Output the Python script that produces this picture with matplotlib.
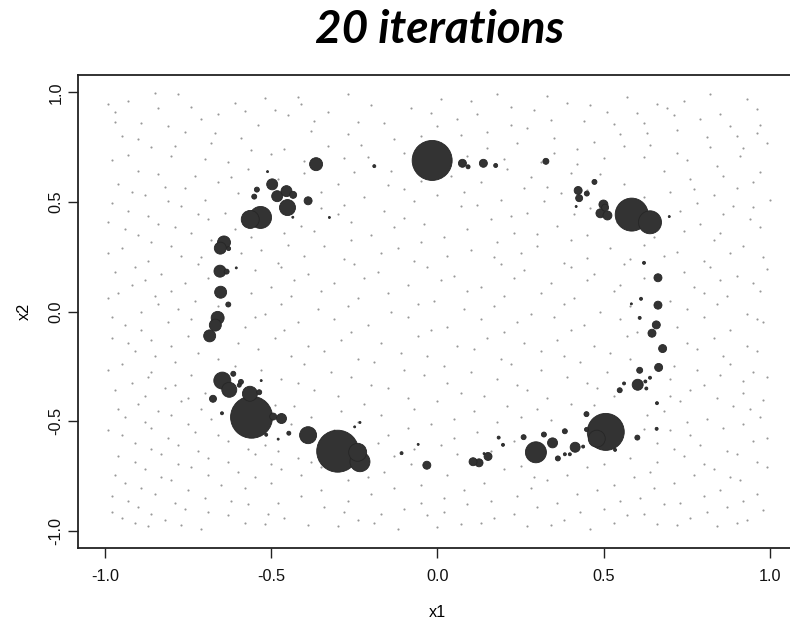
import matplotlib
matplotlib.use("Agg")
import matplotlib.pyplot as plt
import numpy as np

# ---- main particles: x1, x2, weight (diameter-ish) ----
part_x = [-0.365, -0.190, -0.016, -0.511, -0.497, -0.543, -0.551, -0.454, -0.482, -0.434,
          -0.389, -0.451, -0.435, -0.532, -0.563, -0.325, -0.642, -0.653, -0.628, -0.654,
          -0.634, -0.605, -0.652, -0.629, -0.661, -0.668, -0.685, -0.647, -0.626, -0.614,
          -0.591, -0.596, -0.675, -0.564, -0.536, -0.530, -0.559, -0.494, -0.469, -0.648,
          -0.515, -0.447, -0.389, -0.300, -0.240, -0.233, -0.249, -0.233, -0.108, -0.058,
          -0.032, -0.479, 0.075, 0.092, 0.138, 0.175, 0.326, 0.472, 0.423, 0.449,
          0.426, 0.417, 0.499, 0.490, 0.511, 0.504, 0.584, 0.639, 0.697, 0.621,
          0.663, 0.612, 0.583, 0.663, 0.608, 0.658, 0.645, 0.677, 0.665, 0.608,
          0.639, 0.625, 0.602, 0.628, 0.561, 0.548, 0.660, 0.659, 0.601, 0.448,
          0.448, 0.506, 0.479, 0.534, 0.383, 0.320, 0.346, 0.414, 0.438, 0.259,
          0.296, 0.362, 0.383, 0.398, 0.184, 0.197, 0.152, 0.125, 0.107, 0.140]
part_y = [0.672, 0.663, 0.689, 0.638, 0.580, 0.556, 0.524, 0.549, 0.526, 0.532,
          0.505, 0.474, 0.430, 0.429, 0.420, 0.429, 0.315, 0.289, 0.287, 0.184,
          0.182, 0.199, 0.088, 0.032, -0.029, -0.062, -0.111, -0.315, -0.357, -0.284,
          -0.321, -0.336, -0.398, -0.375, -0.368, -0.315, -0.482, -0.479, -0.488, -0.464,
          -0.562, -0.555, -0.564, -0.637, -0.642, -0.685, -0.526, -0.506, -0.646, -0.606,
          -0.701, -0.582, 0.676, 0.660, 0.676, 0.666, 0.685, 0.591, 0.552, 0.538,
          0.517, 0.479, 0.488, 0.448, 0.438, 0.474, 0.442, 0.407, 0.433, 0.222,
          0.154, 0.058, 0.035, 0.029, -0.029, -0.061, -0.099, -0.169, -0.255, -0.268,
          -0.302, -0.319, -0.334, -0.351, -0.328, -0.359, -0.418, -0.535, -0.575, -0.468,
          -0.538, -0.549, -0.580, -0.631, -0.546, -0.561, -0.599, -0.619, -0.616, -0.573,
          -0.642, -0.670, -0.651, -0.651, -0.575, -0.608, -0.661, -0.690, -0.685, -0.648]
part_w = [13, 3, 40, 2, 11, 5, 5, 11, 11, 7,
          8, 16, 2, 22, 18, 2, 13, 12, 4, 12,
          5, 2, 12, 5, 13, 12, 12, 17, 15, 5,
          5, 4, 7, 15, 5, 2, 42, 7, 10, 3,
          3, 4, 17, 42, 18, 20, 2, 2, 3, 2,
          8, 2, 8, 4, 8, 4, 6, 5, 8, 5,
          7, 2, 9, 9, 9, 7, 33, 23, 2, 3,
          8, 3, 2, 8, 3, 8, 8, 8, 8, 6,
          3, 3, 11, 3, 3, 5, 3, 3, 5, 5,
          4, 37, 17, 3, 5, 5, 10, 10, 3, 5,
          21, 5, 3, 3, 3, 3, 8, 8, 8, 2]

# ---- background particles with negligible weight ----
bg_points = [
    (-0.93,0.96),(-0.78,0.99),(-0.61,0.95),(-0.42,0.98),(-0.20,0.94),(0.01,0.97),(0.18,0.99),(0.39,0.95),(0.57,0.98),(0.74,0.96),(0.93,0.97),
    (-0.97,0.91),(-0.84,0.93),(-0.66,0.90),(-0.49,0.92),(-0.33,0.91),(-0.08,0.93),(0.12,0.90),(0.29,0.92),(0.51,0.91),(0.69,0.93),(0.85,0.90),
    (-0.89,0.86),(-0.71,0.88),(-0.54,0.85),(-0.37,0.87),(-0.16,0.86),(0.06,0.88),(0.22,0.85),(0.44,0.87),(0.62,0.86),(0.79,0.88),(0.97,0.85),
    (-0.95,0.80),(-0.76,0.82),(-0.59,0.79),(-0.27,0.81),(-0.05,0.80),(0.15,0.82),(0.35,0.79),(0.55,0.81),(0.72,0.83),(0.90,0.80),
    (-0.86,0.75),(-0.68,0.77),(-0.46,0.74),(-0.23,0.76),(-0.02,0.75),(0.24,0.77),(0.42,0.74),(0.64,0.76),(0.82,0.75),(0.99,0.77),
    (-0.98,0.69),(-0.80,0.71),(-0.63,0.68),(-0.50,0.72),(-0.28,0.70),(0.09,0.71),(0.31,0.68),(0.50,0.70),(0.75,0.69),(0.91,0.71),
    (-0.90,0.64),(-0.73,0.62),(-0.57,0.65),(-0.40,0.63),(-0.14,0.64),(0.04,0.62),(0.21,0.65),(0.40,0.63),(0.68,0.64),(0.86,0.62),
    (-0.96,0.58),(-0.82,0.57),(-0.66,0.59),(-0.30,0.58),(-0.10,0.56),(0.13,0.59),(0.33,0.57),(0.56,0.58),(0.77,0.56),(0.95,0.59),
    (-0.88,0.53),(-0.70,0.51),(-0.60,0.54),(-0.22,0.52),(0.00,0.53),(0.19,0.51),(0.37,0.54),(0.62,0.52),(0.83,0.53),(1.00,0.51),
    (-0.93,0.46),(-0.77,0.48),(-0.64,0.45),(-0.35,0.47),(-0.16,0.46),(0.07,0.48),(0.27,0.45),(0.46,0.47),(0.73,0.46),(0.89,0.48),
    (-0.99,0.41),(-0.84,0.40),(-0.69,0.42),(-0.41,0.39),(-0.26,0.41),(-0.04,0.40),(0.16,0.42),(0.36,0.39),(0.54,0.41),(0.79,0.40),(0.94,0.42),
    (-0.90,0.35),(-0.74,0.36),(-0.56,0.34),(-0.46,0.36),(-0.20,0.35),(0.02,0.34),(0.23,0.36),(0.45,0.35),(0.65,0.34),(0.85,0.36),
    (-0.95,0.29),(-0.80,0.30),(-0.53,0.28),(-0.34,0.30),(-0.12,0.29),(0.10,0.28),(0.30,0.30),(0.52,0.29),(0.72,0.27),(0.92,0.30),
    (-0.87,0.23),(-0.71,0.25),(-0.48,0.22),(-0.28,0.24),(-0.07,0.23),(0.17,0.25),(0.38,0.22),(0.58,0.24),(0.80,0.23),(0.98,0.25),
    (-0.97,0.18),(-0.83,0.17),(-0.55,0.19),(-0.39,0.17),(-0.18,0.18),(0.05,0.16),(0.26,0.19),(0.47,0.17),(0.74,0.18),(0.90,0.16),
    (-0.92,0.12),(-0.76,0.13),(-0.50,0.11),(-0.31,0.13),(-0.09,0.12),(0.13,0.11),(0.34,0.13),(0.55,0.12),(0.77,0.11),(0.95,0.13),
    (-0.99,0.06),(-0.85,0.07),(-0.73,0.05),(-0.44,0.07),(-0.24,0.06),(-0.01,0.05),(0.20,0.07),(0.41,0.06),(0.70,0.05),(0.87,0.07),
    (-0.89,0.00),(-0.78,0.01),(-0.52,-0.01),(-0.36,0.01),(-0.14,0.00),(0.08,0.01),(0.28,-0.01),(0.49,0.00),(0.75,0.01),(0.93,-0.01),
    (-0.94,-0.06),(-0.81,-0.05),(-0.58,-0.07),(-0.42,-0.05),(-0.21,-0.06),(0.03,-0.07),(0.24,-0.05),(0.44,-0.06),(0.72,-0.07),(0.98,-0.05),
    (-0.98,-0.12),(-0.86,-0.13),(-0.75,-0.11),(-0.49,-0.12),(-0.29,-0.13),(-0.06,-0.11),(0.15,-0.12),(0.36,-0.13),(0.57,-0.11),(0.83,-0.12),
    (-0.91,-0.18),(-0.72,-0.19),(-0.54,-0.17),(-0.34,-0.18),(-0.11,-0.19),(0.11,-0.17),(0.31,-0.18),(0.52,-0.19),(0.78,-0.17),(0.96,-0.18),
    (-0.95,-0.24),(-0.79,-0.23),(-0.61,-0.25),(-0.40,-0.24),(-0.19,-0.23),(0.02,-0.25),(0.22,-0.24),(0.43,-0.23),(0.71,-0.25),(0.88,-0.24),
    (-0.87,-0.30),(-0.74,-0.29),(-0.47,-0.31),(-0.26,-0.30),(-0.04,-0.29),(0.18,-0.31),(0.39,-0.30),(0.70,-0.31),(0.85,-0.29),(0.99,-0.30),
    (-0.97,-0.36),(-0.82,-0.35),(-0.70,-0.37),(-0.37,-0.36),(-0.15,-0.35),(0.07,-0.37),(0.27,-0.36),(0.48,-0.35),(0.76,-0.36),(0.92,-0.37),
    (-0.90,-0.42),(-0.77,-0.41),(-0.43,-0.43),(-0.22,-0.42),(0.00,-0.41),(0.21,-0.43),(0.40,-0.42),(0.73,-0.41),(0.89,-0.43),
    (-0.94,-0.48),(-0.80,-0.47),(-0.68,-0.49),(-0.38,-0.48),(-0.17,-0.47),(0.05,-0.49),(0.25,-0.48),(0.63,-0.47),(0.81,-0.49),(0.97,-0.48),
    (-0.99,-0.54),(-0.86,-0.53),(-0.73,-0.55),(-0.60,-0.53),(-0.31,-0.54),(-0.09,-0.53),(0.12,-0.55),(0.70,-0.54),(0.86,-0.53),
    (-0.91,-0.60),(-0.78,-0.61),(-0.63,-0.59),(-0.52,-0.61),(-0.18,-0.60),(0.01,-0.61),(0.23,-0.59),(0.66,-0.60),(0.79,-0.61),(0.95,-0.59),
    (-0.96,-0.66),(-0.83,-0.65),(-0.69,-0.67),(-0.55,-0.65),(-0.42,-0.67),(-0.13,-0.66),(0.06,-0.65),(0.58,-0.67),(0.74,-0.66),(0.90,-0.65),
    (-0.88,-0.72),(-0.74,-0.71),(-0.60,-0.73),(-0.47,-0.72),(-0.35,-0.71),(-0.16,-0.73),(0.20,-0.72),(0.45,-0.71),(0.64,-0.73),(0.83,-0.72),(0.99,-0.71),
    (-0.94,-0.78),(-0.80,-0.77),(-0.65,-0.79),(-0.50,-0.78),(-0.27,-0.77),(-0.05,-0.79),(0.14,-0.78),(0.33,-0.77),(0.53,-0.79),(0.71,-0.78),(0.91,-0.77),
    (-0.98,-0.84),(-0.85,-0.83),(-0.70,-0.85),(-0.41,-0.84),(-0.20,-0.83),(0.02,-0.85),(0.24,-0.84),(0.42,-0.83),(0.61,-0.85),(0.80,-0.84),(0.96,-0.83),
    (-0.90,-0.89),(-0.76,-0.90),(-0.57,-0.88),(-0.34,-0.89),(-0.10,-0.90),(0.09,-0.88),(0.30,-0.89),(0.50,-0.90),(0.68,-0.88),(0.87,-0.89),
    (-0.95,-0.94),(-0.82,-0.95),(-0.63,-0.93),(-0.46,-0.94),(-0.24,-0.95),(-0.03,-0.93),(0.17,-0.94),(0.38,-0.95),(0.57,-0.93),(0.76,-0.94),(0.93,-0.95),
    (-0.87,-0.98),(-0.71,-0.99),(-0.52,-0.97),(-0.30,-0.98),(-0.12,-0.99),(0.07,-0.97),(0.27,-0.98),(0.46,-0.99),(0.66,-0.97),(0.84,-0.98),
    (-0.85,0.995),(-0.52,0.975),(-0.27,0.990),(0.10,0.960),(0.33,0.985),(0.66,0.945),(0.82,0.990),(-0.99,0.945),
    (-0.74,0.935),(-0.41,0.945),(-0.02,0.905),(0.22,0.935),(0.46,0.940),(0.60,0.905),(0.96,0.925),(-0.58,0.915),
    (-0.97,0.865),(-0.81,0.845),(-0.45,0.895),(-0.24,0.865),(0.00,0.845),(0.34,0.875),(0.53,0.855),(0.71,0.895),(0.88,0.845),
    (-0.90,0.785),(-0.67,0.815),(-0.38,0.825),(-0.13,0.785),(0.07,0.805),(0.27,0.835),(0.47,0.775),(0.63,0.815),(0.81,0.795),(0.96,0.815),
    (-0.79,0.755),(-0.56,0.735),(-0.33,0.755),(-0.10,0.725),(0.15,0.745),(0.35,0.725),(0.56,0.755),(0.72,0.725),(0.92,0.745),
    (-0.93,0.715),(-0.70,0.695),(-0.40,0.685),(-0.21,0.705),(0.20,0.695),(0.42,0.675),(0.62,0.705),(0.84,0.665),
    (-0.84,0.625),(-0.62,0.615),(-0.48,0.605),(-0.25,0.635),(-0.05,0.595),(0.28,0.615),(0.49,0.625),(0.76,0.605),(0.97,0.635),
    (-0.92,0.545),(-0.76,0.565),(-0.35,0.545),(-0.15,0.575),(0.08,0.545),(0.26,0.565),(0.45,0.555),(0.70,0.545),(0.90,0.565),
    (-0.98,0.495),(-0.81,0.505),(-0.28,0.485),(-0.07,0.505),(0.12,0.485),(0.32,0.505),(0.58,0.475),(0.78,0.495),(0.95,0.475),
    (-0.87,0.435),(-0.72,0.445),(-0.30,0.445),(-0.10,0.425),(0.22,0.435),(0.41,0.445),(0.66,0.425),(0.86,0.445),
    (-0.94,0.375),(-0.79,0.385),(-0.61,0.375),(-0.37,0.365),(-0.13,0.385),(0.09,0.375),(0.30,0.355),(0.58,0.385),(0.74,0.365),(0.97,0.385),
    (-0.86,0.315),(-0.68,0.325),(-0.45,0.305),(-0.26,0.325),(-0.05,0.315),(0.18,0.315),(0.40,0.325),(0.62,0.305),(0.83,0.325),
    (-0.99,0.265),(-0.77,0.255),(-0.59,0.265),(-0.40,0.255),(-0.17,0.265),(0.03,0.255),(0.25,0.265),(0.45,0.245),(0.68,0.255),(0.88,0.265),
    (-0.91,0.205),(-0.72,0.215),(-0.47,0.205),(-0.25,0.215),(-0.03,0.205),(0.19,0.215),(0.40,0.205),(0.56,0.215),(0.82,0.205),(0.99,0.195),
    (-0.88,0.145),(-0.69,0.155),(-0.43,0.145),(-0.22,0.155),(0.01,0.145),(0.23,0.155),(0.45,0.145),(0.62,0.155),(0.85,0.145),
    (-0.96,0.085),(-0.80,0.095),(-0.56,0.085),(-0.35,0.095),(-0.15,0.085),(0.09,0.095),(0.31,0.085),(0.53,0.095),(0.80,0.085),(0.97,0.095),
    (-0.84,0.035),(-0.66,0.025),(-0.47,0.035),(-0.27,0.025),(-0.06,0.035),(0.17,0.025),(0.38,0.035),(0.58,0.025),(0.84,0.035),
    (-0.98,-0.025),(-0.74,-0.035),(-0.55,-0.025),(-0.31,-0.035),(-0.09,-0.025),(0.13,-0.035),(0.35,-0.025),(0.55,-0.035),(0.80,-0.025),(0.96,-0.035),
    (-0.89,-0.085),(-0.70,-0.095),(-0.46,-0.085),(-0.26,-0.095),(-0.02,-0.085),(0.20,-0.095),(0.40,-0.085),(0.60,-0.095),(0.88,-0.085),
    (-0.93,-0.145),(-0.80,-0.155),(-0.60,-0.145),(-0.39,-0.155),(-0.17,-0.145),(0.06,-0.155),(0.26,-0.145),(0.47,-0.155),(0.75,-0.145),(0.93,-0.155),
    (-0.85,-0.205),(-0.66,-0.215),(-0.44,-0.205),(-0.24,-0.215),(-0.03,-0.205),(0.19,-0.215),(0.38,-0.205),(0.58,-0.215),(0.86,-0.205),
    (-0.99,-0.265),(-0.86,-0.275),(-0.53,-0.265),(-0.32,-0.275),(-0.10,-0.265),(0.10,-0.275),(0.31,-0.265),(0.51,-0.275),(0.78,-0.265),(0.95,-0.275),
    (-0.92,-0.325),(-0.79,-0.335),(-0.42,-0.325),(-0.20,-0.335),(0.03,-0.325),(0.24,-0.335),(0.45,-0.325),(0.80,-0.335),(0.92,-0.315),
    (-0.88,-0.385),(-0.75,-0.395),(-0.49,-0.425),(-0.30,-0.385),(-0.09,-0.395),(0.14,-0.385),(0.33,-0.395),(0.53,-0.385),(0.70,-0.385),(0.84,-0.395),(0.98,-0.405),
    (-0.96,-0.445),(-0.84,-0.455),(-0.71,-0.445),(-0.29,-0.455),(-0.07,-0.445),(0.11,-0.455),(0.30,-0.445),(0.47,-0.425),(0.68,-0.455),(0.94,-0.445),
    (-0.88,-0.505),(-0.75,-0.515),(-0.44,-0.515),(-0.24,-0.505),(-0.02,-0.515),(0.18,-0.505),(0.34,-0.495),(0.75,-0.505),(0.92,-0.515),
    (-0.95,-0.565),(-0.81,-0.575),(-0.66,-0.565),(-0.37,-0.575),(-0.15,-0.565),(0.05,-0.575),(0.62,-0.535),(0.76,-0.565),(0.99,-0.575),
    (-0.86,-0.625),(-0.72,-0.635),(-0.57,-0.625),(-0.48,-0.635),(-0.07,-0.625),(0.16,-0.635),(0.71,-0.625),(0.87,-0.635),
    (-0.91,-0.685),(-0.78,-0.695),(-0.63,-0.685),(-0.50,-0.695),(-0.38,-0.685),(-0.08,-0.695),(0.25,-0.705),(0.50,-0.695),(0.66,-0.685),(0.80,-0.695),(0.96,-0.685),
    (-0.97,-0.745),(-0.83,-0.755),(-0.69,-0.745),(-0.55,-0.755),(-0.41,-0.745),(-0.21,-0.755),(0.03,-0.745),(0.29,-0.755),(0.39,-0.745),(0.59,-0.755),(0.77,-0.745),(0.88,-0.755),
    (-0.89,-0.805),(-0.75,-0.815),(-0.58,-0.805),(-0.35,-0.815),(-0.13,-0.805),(0.08,-0.815),(0.28,-0.805),(0.48,-0.815),(0.65,-0.805),(0.85,-0.815),
    (-0.93,-0.865),(-0.79,-0.875),(-0.62,-0.865),(-0.48,-0.875),(-0.27,-0.865),(-0.05,-0.875),(0.16,-0.865),(0.36,-0.875),(0.55,-0.865),(0.73,-0.875),(0.92,-0.865),
    (-0.98,-0.915),(-0.86,-0.925),(-0.69,-0.915),(-0.51,-0.925),(-0.28,-0.915),(-0.17,-0.925),(0.02,-0.915),(0.23,-0.925),(0.43,-0.915),(0.62,-0.925),(0.81,-0.915),(0.98,-0.905),
    (-0.91,-0.965),(-0.77,-0.975),(-0.58,-0.965),(-0.39,-0.975),(-0.19,-0.965),(0.00,-0.985),(0.13,-0.965),(0.34,-0.975),(0.53,-0.965),(0.72,-0.975),(0.90,-0.965),
]

tick_vals = [-1.0, -0.5, 0.0, 0.5, 1.0]
tick_labels = ["-1.0", "-0.5", "0.0", "0.5", "1.0"]
title = "20 iterations"

plt.rcParams['font.family'] = ['Liberation Sans', 'DejaVu Sans']

fig = plt.figure(figsize=(7.9, 6.2), dpi=100)
# frame continues past the right edge of the picture (cropped, as in the original)
ax = fig.add_axes([78.3 / 790, 0.1156, (790 - 78.3) / 790, 0.7639])

bx = [p[0] for p in bg_points]
by = [p[1] for p in bg_points]
ax.scatter(bx, by, s=2.4, c='#999999', linewidths=0, zorder=1)

pw = np.array(part_w, dtype=float)
order = np.argsort(-pw)
sizes = (pw * 0.72) ** 2
ax.scatter(np.array(part_x)[order], np.array(part_y)[order], s=sizes[order],
           c='#333333', edgecolors='#262626', linewidths=0.6, zorder=2)

ax.set_xlim(-1.08, 1.06)
ax.set_ylim(-1.08, 1.08)
ax.set_xticks(tick_vals)
ax.set_xticklabels(tick_labels)
ax.set_yticks(tick_vals)
ax.set_yticklabels(tick_labels, rotation=90, va='center')
ax.tick_params(axis='both', direction='out', length=7.2, width=1.0, color='#222222',
               labelsize=11.7, labelcolor='#111111')
ax.tick_params(axis='x', pad=7.5)
ax.tick_params(axis='y', pad=3.5)
for sp in ax.spines.values():
    sp.set_linewidth(1.3)
    sp.set_color('#222222')
ax.spines['right'].set_visible(False)

ax.set_xlabel("x1", fontsize=11.7)
ax.xaxis.set_label_coords(0.5047, -0.12)
ax.set_ylabel("x2", fontsize=11.7, labelpad=12)

fig.text(0.557, 1 - 43.0 / 620, title, ha='center', va='baseline', fontsize=33,
         fontweight='bold', fontstyle='italic', family=['Lato', 'Open Sans', 'DejaVu Sans'])

fig.savefig("out.png", dpi=100)
